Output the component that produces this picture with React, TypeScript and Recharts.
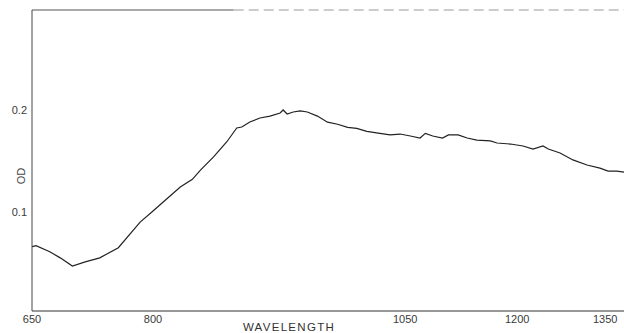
import React from 'react';
import { LineChart, Line, XAxis, YAxis, ReferenceLine } from 'recharts';

// Wavelength (nm) of each sampled point on the trace
const wavelength = [
  650, 655, 672, 685, 700, 716, 734, 757, 784, 800,
  807, 827, 839, 847, 860, 873, 883, 888, 896, 906,
  916, 926, 929, 933, 939, 946, 953, 963, 973, 983,
  993, 1002, 1012, 1025, 1035, 1045, 1057, 1070, 1077, 1087,
  1100, 1108, 1121, 1133, 1146, 1164, 1173, 1191, 1210, 1227,
  1244, 1253, 1273, 1295, 1319, 1341, 1355, 1370, 1382,
];

// Optical density at each wavelength
const od = [
  0.066, 0.067, 0.061, 0.055, 0.047, 0.051, 0.055, 0.065, 0.090, 0.101,
  0.107, 0.1245, 0.132, 0.141, 0.154, 0.1686, 0.1823, 0.1833, 0.1882, 0.1921,
  0.194, 0.197, 0.2, 0.196, 0.198, 0.199, 0.198, 0.194, 0.188, 0.186,
  0.183, 0.182, 0.179, 0.177, 0.1755, 0.1764, 0.1745, 0.1725, 0.177, 0.1745,
  0.1725, 0.1755, 0.1755, 0.1725, 0.1705, 0.1696, 0.1676, 0.1666, 0.1647, 0.1617,
  0.1647, 0.1617, 0.1578, 0.151, 0.146, 0.143, 0.14, 0.14, 0.139,
];

// Axis tick labels (wavelength) and chart-paper calibration (divisions) of the recorder axis
const xTickLabels = [650, 800, 1050, 1200, 1350];
const xTickDivisions = [0, 121, 373, 485, 573];
const xMax = 1382;

const yTicks = [0.1, 0.2];
const yDomain: [number, number] = [0.0029, 0.298];

// Piecewise-linear wavelength -> chart-paper position
function toPos(w: number): number {
  const n = xTickLabels.length;
  let i = 0;
  while (i < n - 2 && w > xTickLabels[i + 1]) i++;
  const w0 = xTickLabels[i], w1 = xTickLabels[i + 1];
  const p0 = xTickDivisions[i], p1 = xTickDivisions[i + 1];
  return p0 + ((w - w0) * (p1 - p0)) / (w1 - w0);
}

const data = wavelength.map((w, i) => ({ wl: w, pos: toPos(w), od: od[i] }));
const xTicks = xTickLabels.map(toPos);

const tickStyle = { fontSize: 11, fill: '#3a3a3a', fontFamily: 'Liberation Sans' };

export default function App() {
  return (
    <div style={{ position: 'absolute', left: 0, top: 0, background: '#fff' }}>
      <LineChart
        width={624}
        height={333}
        data={data}
        margin={{ top: 10, right: 0, left: 0, bottom: 0 }}
      >
        <XAxis
          type="number"
          dataKey="pos"
          domain={[0, toPos(xMax)]}
          ticks={xTicks}
          tickFormatter={(v: number) => {
            const idx = xTicks.findIndex((t) => Math.abs(t - v) < 0.01);
            return idx >= 0 ? String(xTickLabels[idx]) : '';
          }}
          allowDataOverflow
          height={22}
          tickLine={false}
          tickSize={0}
          tickMargin={4}
          axisLine={{ stroke: '#333', strokeWidth: 1 }}
          tick={tickStyle}
          label={{
            value: 'WAVELENGTH',
            position: 'insideBottom',
            offset: 2,
            dx: -39,
            style: { fontSize: 11.5, fill: '#333', fontFamily: 'Liberation Sans', letterSpacing: 1.3 },
          }}
        />
        <YAxis
          type="number"
          dataKey="od"
          domain={yDomain}
          ticks={yTicks}
          tickFormatter={(v: number) => v.toFixed(1)}
          allowDataOverflow
          width={32}
          tickLine={false}
          tickSize={0}
          tickMargin={5}
          axisLine={{ stroke: '#444', strokeWidth: 1 }}
          tick={tickStyle}
          label={{
            content: () => (
              <text
                x={21}
                y={176}
                transform="rotate(-90 21 176)"
                textAnchor="middle"
                dominantBaseline="central"
                style={{ fontSize: 11, fill: '#444', fontFamily: 'Liberation Sans' }}
              >
                OD
              </text>
            ),
          }}
        />
        <ReferenceLine
          segment={[
            { x: 0, y: yDomain[1] },
            { x: toPos(880), y: yDomain[1] },
          ]}
          stroke="#555"
          strokeWidth={1.2}
          ifOverflow="visible"
        />
        <ReferenceLine
          segment={[
            { x: toPos(880), y: yDomain[1] },
            { x: toPos(xMax), y: yDomain[1] },
          ]}
          stroke="#999"
          strokeWidth={1}
          strokeDasharray="10 5"
          ifOverflow="visible"
        />
        <Line
          type="linear"
          dataKey="od"
          stroke="#222"
          strokeWidth={1.2}
          dot={false}
          isAnimationActive={false}
        />
      </LineChart>
    </div>
  );
}
